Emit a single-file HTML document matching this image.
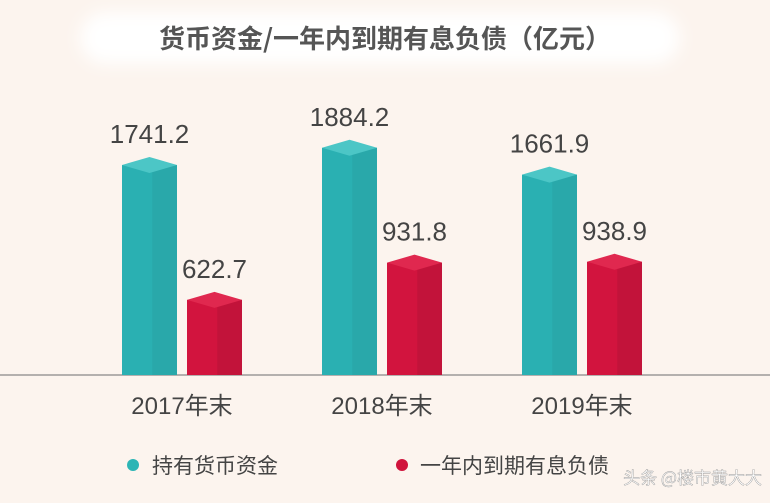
<!DOCTYPE html>
<html><head><meta charset="utf-8"><style>
body{margin:0;width:770px;height:498px;overflow:hidden;background:#fcf4ee;font-family:"Liberation Sans","Noto Sans CJK SC",sans-serif}
</style></head><body>
<svg width="770" height="498" viewBox="0 0 770 498" xmlns="http://www.w3.org/2000/svg">
<defs><filter id="bl" x="-20%" y="-50%" width="140%" height="200%"><feGaussianBlur stdDeviation="8"/></filter></defs>
<rect x="0" y="0" width="770" height="498" fill="#fcf4ee"/>
<rect x="80" y="12" width="600" height="52" rx="26" fill="#ffffff" filter="url(#bl)"/>
<text x="385" y="48" text-anchor="middle" font-size="26" font-weight="bold" fill="#555" font-family="'Noto Sans CJK SC',sans-serif">货币资金/一年内到期有息负债（亿元）</text>
<line x1="0" y1="375" x2="770" y2="375" stroke="#888" stroke-width="1.2"/>
<g id="bars"></g>
<circle cx="133" cy="465" r="6" fill="#2cb5b5"/>
<text x="152" y="473" font-size="21" fill="#444" font-family="'Noto Sans CJK SC',sans-serif">持有货币资金</text>
<circle cx="402" cy="465" r="6" fill="#d0143c"/>
<text x="420" y="473" font-size="21" fill="#444" font-family="'Noto Sans CJK SC',sans-serif">一年内到期有息负债</text>
<text x="762" y="484" text-anchor="end" font-size="17" fill="#fff" stroke="#999" stroke-width="0.4" font-family="'Noto Sans CJK SC',sans-serif">头条 @楼市黄大大</text>
</svg>
<script>
const categories=["2017年末","2018年末","2019年末"];
const cashValues=[1741.2,1884.2,1661.9];
const debtValues=[622.7,931.8,938.9];
const NS="http://www.w3.org/2000/svg";
const base=375, scale=0.1206;
function yOf(v){return base-v*scale;}
function xGroup(i){return 182+i*200;}
const g=document.getElementById('bars');
function mk(tag,attrs){const e=document.createElementNS(NS,tag);for(const k in attrs)e.setAttribute(k,attrs[k]);g.appendChild(e);return e;}
function bar(x,v,front,side,top,name){
  const w=55,y=yOf(v),c=8;
  const f=mk('rect',{x:x,y:y,width:w,height:base-y,fill:front});
  
  
  const s=mk('rect',{x:x+w*0.55,y:y,width:w*0.45,height:base-y,fill:side});
  
  
  const t=mk('polygon',{points:`${x},${y} ${x+w*0.5},${y-c} ${x+w},${y} ${x+w*0.5},${y+c}`,fill:top});
  
  
  const l=mk('text',{x:x+w/2,y:y-22,'text-anchor':'middle','font-size':26,fill:'#444'});
  l.textContent=v.toFixed(1);
  
  
}
categories.forEach((c,i)=>{
  const gx=xGroup(i);
  bar(gx-60,cashValues[i],'#2ab0b2','#29a8aa','#4cc6c6','bar-cash-'+i);
  bar(gx+5,debtValues[i],'#d2143e','#c2133a','#e0284f','bar-debt-'+i);
  const t=mk('text',{x:gx,y:414,'text-anchor':'middle','font-size':24,fill:'#444'});
  t.textContent=c;
  
  
});
</script>
</body></html>
